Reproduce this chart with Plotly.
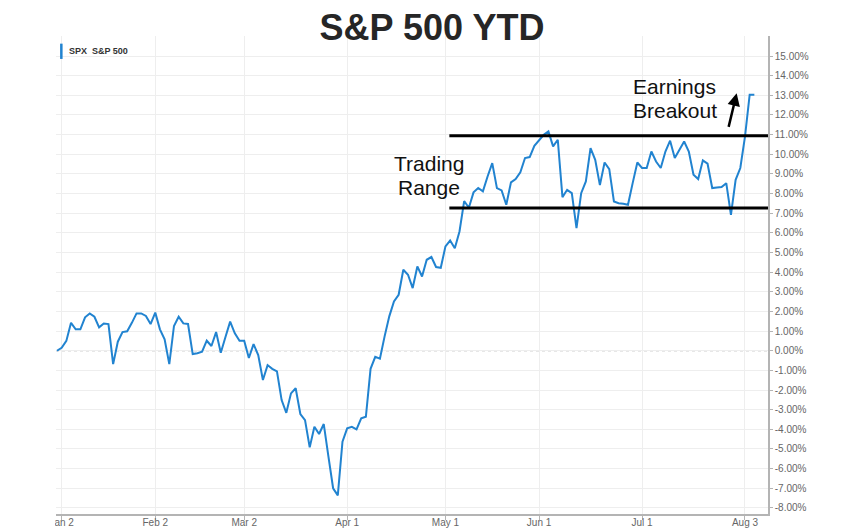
import pandas as pd
import plotly.graph_objects as go

# ---- data -------------------------------------------------------------
HOLIDAYS = ["2015-01-01", "2015-01-19", "2015-02-16", "2015-04-03",
            "2015-05-25", "2015-07-03"]
dates = pd.bdate_range("2014-12-31", "2015-08-05", freq="C", holidays=HOLIDAYS)

ytd_pct = [
    0.00, 0.15, 0.50, 1.42, 1.09, 1.09, 1.70, 1.90, 1.73, 1.19,
    1.39, 1.36, -0.68, 0.46, 0.95, 0.99, 1.42, 1.90, 1.90, 1.77,
    1.36, 1.94, 1.09, 0.58, -0.68, 1.26, 1.73, 1.39, 1.36, -0.17,
    -0.13, -0.05, 0.51, 0.24, 0.95, -0.10, 0.70, 1.48, 0.89, 0.51,
    0.51, -0.37, 0.34, -0.22, -1.49, -0.73, -0.92, -1.05, -2.51, -3.16,
    -2.17, -1.91, -3.22, -3.53, -4.92, -3.87, -4.24, -3.73, -5.39, -7.00,
    -7.36, -4.63, -3.95, -3.87, -4.00, -3.44, -3.36, -0.92, -0.31, -0.40,
    0.73, 1.75, 2.51, 2.85, 4.12, 3.87, 3.19, 4.29, 3.78, 4.63,
    4.77, 4.26, 4.22, 5.31, 5.61, 5.22, 6.07, 7.62, 7.28, 8.06,
    8.28, 8.11, 8.87, 9.55, 8.28, 8.16, 7.43, 8.57, 8.74, 9.08,
    9.81, 9.86, 10.43, 10.70, 10.99, 11.16, 10.40, 10.74, 7.82, 8.19,
    8.02, 6.24, 8.02, 8.62, 10.31, 9.72, 8.43, 9.58, 9.24, 7.60,
    7.51, 7.48, 7.43, 8.53, 9.58, 9.30, 9.30, 10.14, 9.63, 9.30,
    10.14, 10.69, 9.81, 10.23, 10.65, 10.14, 8.96, 8.74, 9.69, 9.52,
    8.28, 8.31, 8.33, 8.53, 6.92, 8.70, 9.30, 10.90, 13.03, 13.03,
]

x_tick_dates = ["2015-01-02", "2015-02-02", "2015-03-02", "2015-04-01",
                "2015-05-01", "2015-06-01", "2015-07-01", "2015-08-03"]
x_tick_labels = ["Jan 2", "Feb 2", "Mar 2", "Apr 1",
                 "May 1", "Jun 1", "Jul 1", "Aug 3"]

y_tick_values = list(range(-8, 16))
y_tick_labels = [f"{v:.2f}%" for v in y_tick_values]

RANGE_TOP = 10.94
RANGE_BOTTOM = 7.26
RANGE_START = "2015-05-01 20:00"

X_RANGE = ["2014-12-30 19:00", "2015-08-07 22:00"]
Y_RANGE = [-8.31, 16.02]

# ---- figure -----------------------------------------------------------
LINE_BLUE = "#2183d0"
GRID = "#eeeeee"
AXIS = "#b4b4b4"
TICK_TXT = "#666666"

fig = go.Figure()
fig.add_trace(go.Scatter(
    x=dates, y=ytd_pct, mode="lines",
    line=dict(color=LINE_BLUE, width=2),
    name="SPX  S&P 500", showlegend=False, hoverinfo="x+y",
))

fig.update_layout(
    width=864, height=528,
    margin=dict(l=56, r=96, t=36, b=14),
    paper_bgcolor="white", plot_bgcolor="white",
    font=dict(family="Liberation Sans, Arial, sans-serif"),
    title=dict(
        text="<b>S&P 500 YTD</b>",
        x=0.5, xref="container", xanchor="center",
        y=0.949, yref="container", yanchor="middle",
        font=dict(size=36, color="#262626",
                  family="Liberation Sans, Arial, sans-serif"),
    ),
    xaxis=dict(
        range=X_RANGE,
        rangebreaks=[dict(bounds=["sat", "mon"]), dict(values=HOLIDAYS)],
        tickmode="array", tickvals=x_tick_dates, ticktext=x_tick_labels,
        ticks="outside", ticklen=4, tickcolor=AXIS,
        ticklabelstandoff=-6,
        showgrid=True, gridcolor=GRID, gridwidth=1,
        showline=True, linecolor=AXIS, linewidth=1.5,
        zeroline=False, automargin=False,
        tickfont=dict(size=10, color=TICK_TXT),
    ),
    yaxis=dict(
        side="right", range=Y_RANGE,
        tickmode="array", tickvals=y_tick_values, ticktext=y_tick_labels,
        ticks="outside", ticklen=3, tickcolor=AXIS,
        showgrid=True, gridcolor=GRID, gridwidth=1,
        showline=True, linecolor=AXIS, linewidth=1.5,
        zeroline=False, automargin=False,
        tickfont=dict(size=10, color=TICK_TXT),
    ),
)

# dotted zero line
fig.add_shape(type="line", xref="paper", x0=0, x1=1, yref="y", y0=0, y1=0,
              line=dict(color="#9a9a9a", width=1, dash="dot"), layer="below")

# trading range lines
for level in (RANGE_TOP, RANGE_BOTTOM):
    fig.add_shape(type="line", xref="x", x0=RANGE_START, x1=X_RANGE[1],
                  yref="y", y0=level, y1=level,
                  line=dict(color="black", width=3), layer="above")

# legend-like label in upper left
fig.add_shape(type="line", xref="paper", yref="paper",
              x0=0.0075, x1=0.0075, y0=0.952, y1=0.984,
              line=dict(color=LINE_BLUE, width=2.5))
fig.add_annotation(text="<b>SPX  S&P 500</b>", xref="paper", yref="paper",
                   x=0.0155, y=0.969, xanchor="left", yanchor="middle",
                   showarrow=False, font=dict(size=9, color="#333333"))

# text annotations
ANN_FONT = dict(size=21, color="#111111",
                family="Liberation Sans, Arial, sans-serif")
for txt, ax_, ay_ in [("Trading", 0.524, 0.734), ("Range", 0.524, 0.684),
                      ("Earnings", 0.869, 0.895), ("Breakout", 0.869, 0.845)]:
    fig.add_annotation(text=txt, xref="paper", yref="paper", x=ax_, y=ay_,
                       xanchor="center", yanchor="middle", showarrow=False,
                       font=ANN_FONT)

# breakout arrow
fig.add_annotation(text="", xref="paper", yref="paper", x=0.956, y=0.880,
                   ax=-8.4, ay=35, showarrow=True, arrowhead=2,
                   arrowsize=1, arrowwidth=2.5, arrowcolor="black")

# crop-like mask over the far left of the x labels
fig.add_shape(type="rect", xref="paper", yref="paper",
              x0=-0.08, x1=-0.0015, y0=-0.04, y1=-0.002,
              fillcolor="white", line=dict(width=0), layer="above")

fig.write_html(
    "out.html",
    config={"displayModeBar": False},
    post_script="document.body.style.margin='0px';"
                "document.body.style.overflow='hidden';",
)
